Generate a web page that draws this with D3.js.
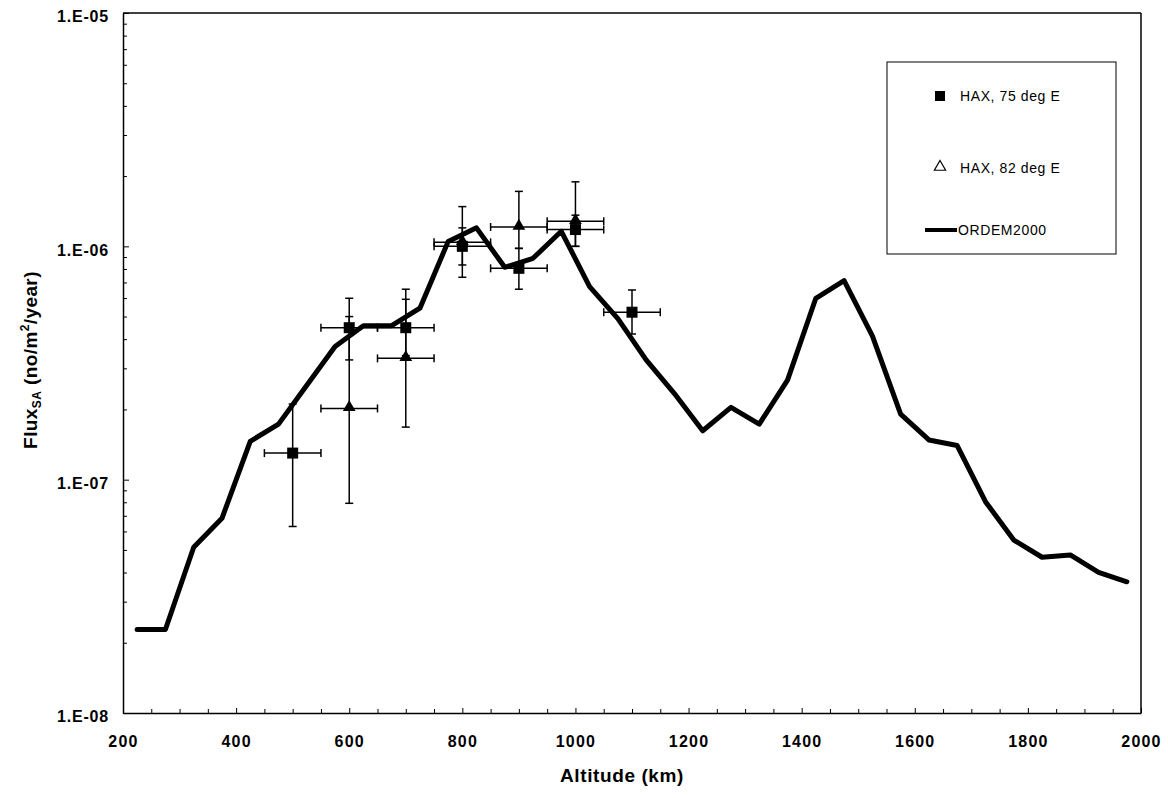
<!DOCTYPE html>
<html>
<head>
<meta charset="utf-8">
<script src="https://cdn.jsdelivr.net/npm/d3@7"></script>
<style>
  body { margin: 0; background: #fff; }
  text { font-family: "Liberation Sans", Arial, sans-serif; fill: #000; }
</style>
</head>
<body>
<div id="chart-area"></div>
<script>
// ORDEM2000 curve
const lineAlt = [225, 275, 325, 375, 425, 475, 525, 575, 625, 675, 725, 775, 825, 875, 925, 975,
    1025, 1075, 1125, 1175, 1225, 1275, 1325, 1375, 1425, 1475, 1525, 1575, 1625, 1675, 1725,
    1775, 1825, 1875, 1925, 1975];
const lineFlux = [2.28e-8, 2.28e-8, 5.13e-8, 6.83e-8, 1.46e-7, 1.73e-7, 2.54e-7, 3.72e-7, 4.57e-7,
    4.57e-7, 5.43e-7, 1.05e-6, 1.20e-6, 8.13e-7, 8.89e-7, 1.16e-6, 6.72e-7, 4.9e-7, 3.26e-7,
    2.34e-7, 1.62e-7, 2.04e-7, 1.73e-7, 2.67e-7, 5.99e-7, 7.13e-7, 4.13e-7, 1.91e-7, 1.48e-7,
    1.40e-7, 8.05e-8, 5.51e-8, 4.65e-8, 4.76e-8, 4.01e-8, 3.65e-8];

// HAX, 75 deg E
const hax75Alt = [500, 600, 700, 800, 900, 1000, 1100];
const hax75Flux = [1.30e-7, 4.48e-7, 4.48e-7, 1.0e-6, 8.05e-7, 1.18e-6, 5.22e-7];
const hax75Low = [6.3e-8, 3.26e-7, 3.4e-7, 8.32e-7, 6.55e-7, 1.0e-6, 4.21e-7];
const hax75High = [2.11e-7, 5.99e-7, 5.93e-7, 1.20e-6, 9.8e-7, 1.36e-6, 6.50e-7];

// HAX, 82 deg E
const hax82Alt = [600, 700, 800, 900, 1000];
const hax82Flux = [2.02e-7, 3.31e-7, 1.04e-6, 1.21e-6, 1.28e-6];
const hax82Low = [7.92e-8, 1.68e-7, 7.37e-7, 9.8e-7, 1.0e-6];
const hax82High = [5.0e-7, 6.55e-7, 1.48e-6, 1.72e-6, 1.89e-6];

const altErr = 50;

const xTicks = [200, 400, 600, 800, 1000, 1200, 1400, 1600, 1800, 2000];
const xTickLabels = ["200", "400", "600", "800", "1000", "1200", "1400", "1600", "1800", "2000"];
const yTicks = [1e-8, 1e-7, 1e-6, 1e-5];
const yTickLabels = ["1.E-08", "1.E-07", "1.E-06", "1.E-05"];
const legendLabels = ["HAX, 75 deg E", "HAX, 82 deg E", "ORDEM2000"];

const W = 1168, H = 798;
const margin = {top: 13, right: 27, bottom: 85, left: 123};
const width = W - margin.left - margin.right;
const height = H - margin.top - margin.bottom;

const svg = d3.select("#chart-area")
    .append("svg")
    .attr("width", W)
    .attr("height", H);

const g = svg.append("g")
    .attr("transform", "translate(" + margin.left + "," + margin.top + ")");

const x = d3.scaleLinear().domain([200, 2000]).range([0, width]);
const y = d3.scaleLog().domain([1e-8, 1e-5]).range([height, 0]);

// minor ticks
const xMinor = d3.range(250, 2000, 50).filter(v => v % 200 !== 0);
g.append("g")
    .attr("transform", "translate(0," + height + ")")
    .call(d3.axisBottom(x).tickValues(xMinor).tickSize(-4).tickFormat(""))
    .call(a => a.select(".domain").remove());

const yMinor = [];
[1e-8, 1e-7, 1e-6].forEach(d => { for (let k = 2; k <= 9; k++) yMinor.push(d * k); });
g.append("g")
    .call(d3.axisLeft(y).tickValues(yMinor).tickSize(-4).tickFormat(""))
    .call(a => a.select(".domain").remove());

// main axes
const xAxis = g.append("g")
    .attr("transform", "translate(0," + height + ")")
    .call(d3.axisBottom(x).tickValues(xTicks).tickSize(-5).tickPadding(23).tickSizeOuter(0)
        .tickFormat((d, i) => xTickLabels[i]));
xAxis.selectAll("text")
    .attr("font-size", 16)
    .attr("font-weight", "bold")
    .attr("letter-spacing", 1.2);

const yAxis = g.append("g")
    .call(d3.axisLeft(y).tickValues(yTicks).tickSize(-6).tickPadding(14).tickSizeOuter(0)
        .tickFormat((d, i) => yTickLabels[i]));
yAxis.selectAll("text")
    .attr("font-size", 16)
    .attr("font-weight", "bold")
    .attr("letter-spacing", 0.8)
    .attr("dy", "0.55em");

[xAxis, yAxis].forEach(a => {
    a.select(".domain").attr("stroke-width", 1.5);
    a.selectAll(".tick line").attr("stroke-width", 1);
});

// top and right frame
g.append("line").attr("x1", 0).attr("x2", width).attr("y1", 0).attr("y2", 0)
    .attr("stroke", "#000").attr("stroke-width", 1.5);
g.append("line").attr("x1", width).attr("x2", width).attr("y1", 0).attr("y2", height)
    .attr("stroke", "#000").attr("stroke-width", 1.5);

// axis titles
svg.append("text")
    .attr("x", 622)
    .attr("y", 782)
    .attr("text-anchor", "middle")
    .attr("font-size", 19)
    .attr("font-weight", "bold")
    .attr("letter-spacing", 0.6)
    .text("Altitude (km)");

const yTitle = svg.append("text")
    .attr("transform", "translate(37,360) rotate(-90)")
    .attr("text-anchor", "middle")
    .attr("font-size", 19)
    .attr("font-weight", "bold")
    .attr("letter-spacing", 0.4);
yTitle.append("tspan").text("Flux");
yTitle.append("tspan").attr("font-size", 12).attr("dy", 4).text("SA");
yTitle.append("tspan").attr("dy", -4).text(" (no/m");
yTitle.append("tspan").attr("font-size", 12).attr("dy", -8).text("2");
yTitle.append("tspan").attr("dy", 8).text("/year)");

// ORDEM2000 line
const lineData = lineAlt.map((a, i) => ({alt: a, flux: lineFlux[i]}));
g.append("path")
    .datum(lineData)
    .attr("fill", "none")
    .attr("stroke", "#000")
    .attr("stroke-width", 5)
    .attr("stroke-linejoin", "round")
    .attr("stroke-linecap", "round")
    .attr("d", d3.line().x(d => x(d.alt)).y(d => y(d.flux)));

// error bars
function errorBars(alts, vals, lows, highs) {
    const data = alts.map((a, i) => ({alt: a, v: vals[i], lo: lows[i], hi: highs[i]}));
    const eg = g.append("g").attr("stroke", "#000").attr("stroke-width", 1.5);
    const cap = 4;
    data.forEach(d => {
        const cx = x(d.alt), cy = y(d.v);
        const x0 = x(d.alt - altErr), x1 = x(d.alt + altErr);
        const y0 = y(d.lo), y1 = y(d.hi);
        eg.append("line").attr("x1", x0).attr("x2", x1).attr("y1", cy).attr("y2", cy);
        eg.append("line").attr("x1", x0).attr("x2", x0).attr("y1", cy - cap).attr("y2", cy + cap);
        eg.append("line").attr("x1", x1).attr("x2", x1).attr("y1", cy - cap).attr("y2", cy + cap);
        eg.append("line").attr("x1", cx).attr("x2", cx).attr("y1", y0).attr("y2", y1);
        eg.append("line").attr("x1", cx - cap).attr("x2", cx + cap).attr("y1", y0).attr("y2", y0);
        eg.append("line").attr("x1", cx - cap).attr("x2", cx + cap).attr("y1", y1).attr("y2", y1);
    });
    return data;
}

const d82 = errorBars(hax82Alt, hax82Flux, hax82Low, hax82High);
const d75 = errorBars(hax75Alt, hax75Flux, hax75Low, hax75High);

const triSym = d3.symbol().type(d3.symbolTriangle).size(70);
g.append("g").selectAll("path")
    .data(d82)
    .enter()
    .append("path")
    .attr("transform", d => "translate(" + x(d.alt) + "," + (y(d.v) - 1) + ")")
    .attr("d", triSym)
    .attr("fill", "#000");

const sq = 11;
g.append("g").selectAll("rect")
    .data(d75)
    .enter()
    .append("rect")
    .attr("x", d => x(d.alt) - sq / 2)
    .attr("y", d => y(d.v) - sq / 2)
    .attr("width", sq)
    .attr("height", sq)
    .attr("fill", "#000");

// legend
const lg = svg.append("g");
lg.append("rect")
    .attr("x", 887).attr("y", 62)
    .attr("width", 229).attr("height", 192)
    .attr("fill", "#fff").attr("stroke", "#000").attr("stroke-width", 1);
lg.append("rect")
    .attr("x", 935).attr("y", 91).attr("width", 10).attr("height", 10)
    .attr("fill", "#000");
lg.append("path")
    .attr("transform", "translate(940,167)")
    .attr("d", d3.symbol().type(d3.symbolTriangle).size(55))
    .attr("fill", "#fff").attr("stroke", "#000").attr("stroke-width", 1.2);
lg.append("line")
    .attr("x1", 925).attr("x2", 957).attr("y1", 230).attr("y2", 230)
    .attr("stroke", "#000").attr("stroke-width", 4);
const legendY = [101, 173, 235];
const legendX = [960, 960, 958];
legendLabels.forEach((t, i) => {
    lg.append("text")
        .attr("x", legendX[i]).attr("y", legendY[i])
        .attr("font-size", 14)
        .attr("letter-spacing", 0.6)
        .text(t);
});
</script>
</body>
</html>
